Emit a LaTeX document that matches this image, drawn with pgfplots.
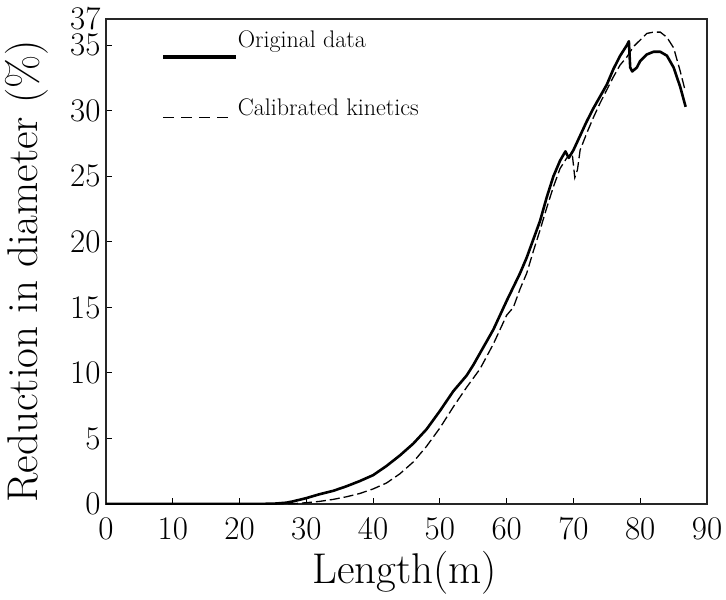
\documentclass[border=0pt]{standalone}
\usepackage{pgfplots}
\pgfplotsset{compat=1.18}
\begin{document}
\begin{tikzpicture}
\begin{axis}[
    scale only axis,
    width=601pt, height=485pt,
    xmin=0, xmax=90,
    ymin=0, ymax=37,
    xtick={0,10,...,90},
    ytick={0,5,10,15,20,25,30,35,37},
    tick align=inside,
    tick pos=left,
    major tick length=6pt,
    axis line style={line width=1.4pt, black!85},
    tick style={line width=1pt, black},
    /pgf/number format/assume math mode=true,
    tick label style={font=\fontsize{33}{36}\selectfont},
    xticklabel style={yshift=-10pt},
    yticklabel style={xshift=-2pt},
    xlabel={Length(m)},
    ylabel={Reduction in diameter (\%)},
    label style={font=\fontsize{43}{47}\selectfont},
    xlabel style={at={(axis description cs:0.497,-0.097)}, anchor=north, inner sep=0pt},
    ylabel style={at={(axis description cs:-0.095,0.48)}, anchor=south, inner sep=0pt},
]
% original data
\addplot[black, line width=2.6pt, line join=round] coordinates {
(0,0) (10,0) (20,0) (25,0.02) (27,0.1) (28,0.2) (30,0.45) (32,0.75) (34,1.0)
(36,1.35) (38,1.75) (40,2.2) (42,2.9) (44,3.7) (46,4.6) (48,5.7) (50,7.1)
(52,8.6) (54,9.8) (55,10.6) (56,11.5) (58,13.3) (60,15.5) (62,17.6) (63,18.8)
(64,20.2) (65,21.6) (66,23.4) (67,25) (68,26.2) (68.8,26.9) (69.3,26.4)
(70,27.0) (71,28.1) (72,29.2) (73,30.2) (74,31.1) (75,32.0) (76,33.2)
(77,34.2) (78,35.0) (78.3,35.3) (78.5,33.3) (78.8,33.0) (79.5,33.3)
(80,33.8) (81,34.3) (82,34.5) (83,34.5) (84,34.2) (85,33.3) (86,31.8) (86.8,30.3)
};
% calibrated kinetics
\addplot[black, line width=1.3pt, dash pattern=on 10pt off 4pt] coordinates {
(0,0) (20,0) (28,0.02) (30,0.1) (32,0.2) (34,0.35) (36,0.55) (38,0.8)
(40,1.15) (42,1.6) (44,2.3) (46,3.2) (48,4.4) (50,5.8) (52,7.4) (54,8.9)
(56,10.3) (58,12.2) (60,14.4) (61,15.0) (62,16.4) (63,17.6) (64,19.3)
(65,20.9) (66,22.6) (67,24.2) (68,25.6) (69,26.4) (69.8,26.8) (70.2,24.9)
(70.6,25.5) (71,27.0) (72,28.3) (73,29.5) (74,30.6) (75,31.6) (76,32.6)
(77,33.5) (78,34.1) (79,34.9) (80,35.4) (81,35.9) (82,36.0) (83,36.0)
(84,35.6) (85,34.8) (86,33.0) (86.7,31.6)
};
% legend
\addplot[black, line width=3.5pt, forget plot] coordinates {(8.6,34.1) (19.4,34.1)};
\addplot[black, line width=1.5pt, dash pattern=on 11pt off 7pt, forget plot] coordinates {(8.6,29.5) (19.2,29.5)};
\node[anchor=base west, inner sep=0pt, font=\fontsize{24}{27}\selectfont] at (axis cs:19.7,34.8) {Original data};
\node[anchor=base west, inner sep=0pt, font=\fontsize{24}{27}\selectfont] at (axis cs:19.7,29.6) {Calibrated kinetics};
\end{axis}
\pgfresetboundingbox
\path[use as bounding box] ([shift={(-106pt,-95pt)}]current axis.south west) rectangle ([shift={(19pt,19pt)}]current axis.north east);
\end{tikzpicture}
\end{document}
